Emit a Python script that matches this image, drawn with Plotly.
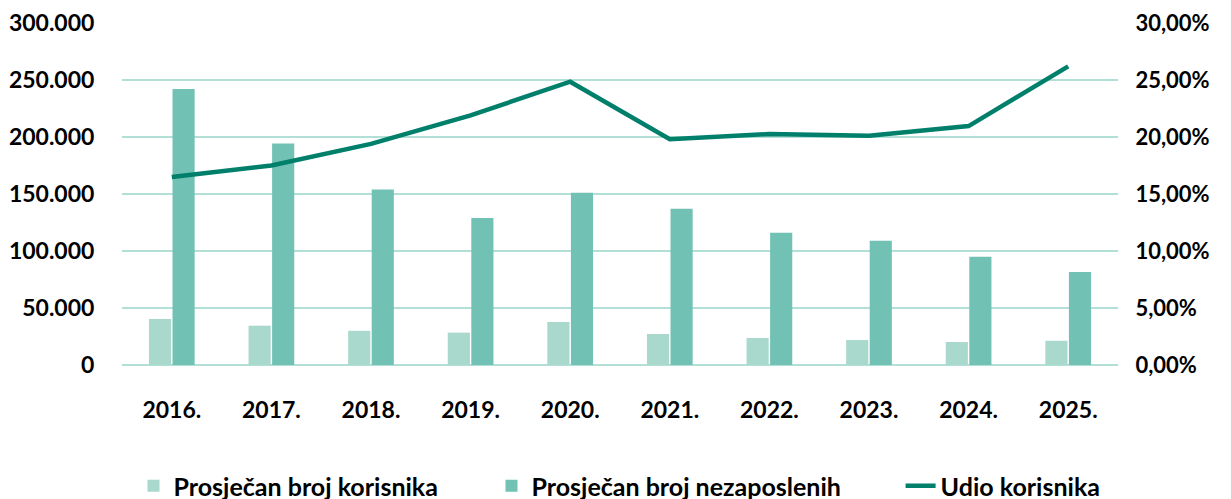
import plotly.graph_objects as go

years = ["2016.", "2017.", "2018.", "2019.", "2020.", "2021.", "2022.", "2023.", "2024.", "2025."]
korisnici = [40400, 34500, 30000, 28400, 37700, 27200, 23700, 21900, 20200, 21300]
nezaposleni = [242000, 194400, 154000, 129000, 151000, 137000, 116000, 109000, 95000, 81600]
udio = [0.165, 0.175, 0.194, 0.219, 0.2485, 0.198, 0.2026, 0.201, 0.2096, 0.262]
names = ["Prosječan broj korisnika", "Prosječan broj nezaposlenih", "Udio korisnika"]

FONT = "Lato"
TF = dict(family=FONT, size=23, color="#000000", weight="bold")
fig = go.Figure()
fig.add_trace(go.Bar(x=years, y=korisnici, name=names[0] + "\u00a0" * 8,
                     marker=dict(color="#a9d8cc", line=dict(width=0))))
fig.add_trace(go.Bar(x=years, y=nezaposleni, name=names[1] + "\u00a0" * 9,
                     marker=dict(color="#71c2b4", line=dict(width=0))))
fig.add_trace(go.Scatter(x=years, y=udio, name=names[2], yaxis="y2",
                         mode="lines", line=dict(color="#007f6b", width=4.5)))

fig.update_layout(
    width=1223, height=491,
    margin=dict(l=114, r=113, t=15, b=134, autoexpand=False),
    plot_bgcolor="white", paper_bgcolor="white",
    separators=",.",
    barmode="group", bargap=0.527, bargroupgap=0.06,
    font=dict(family=FONT, size=22, color="#000000"),
    xaxis=dict(showgrid=False, ticks="outside", ticklen=24, tickcolor="rgba(0,0,0,0)",
               tickfont=TF, automargin=False),
    yaxis=dict(range=[0, 300000], dtick=50000, tickformat=",d", showgrid=True,
               gridcolor="#b3e0d6", gridwidth=2, zeroline=True, zerolinecolor="#b3e0d6",
               zerolinewidth=2, ticks="outside", ticklen=22, tickcolor="rgba(0,0,0,0)",
               tickfont=TF, automargin=False),
    yaxis2=dict(range=[0, 0.30], dtick=0.05, tickformat=".2%", overlaying="y", side="right",
                showgrid=False, zeroline=False, ticks="outside", ticklen=12,
                tickcolor="rgba(0,0,0,0)", tickfont=dict(TF, size=22), automargin=False),
    legend=dict(orientation="h", xref="container", x=0.5, xanchor="center",
                yref="container", y=13 / 491, yanchor="middle",
                font=dict(family=FONT, size=25, color="#000000", weight="bold"),
                itemwidth=30, traceorder="normal"),
)
fig.write_html("out.html")
